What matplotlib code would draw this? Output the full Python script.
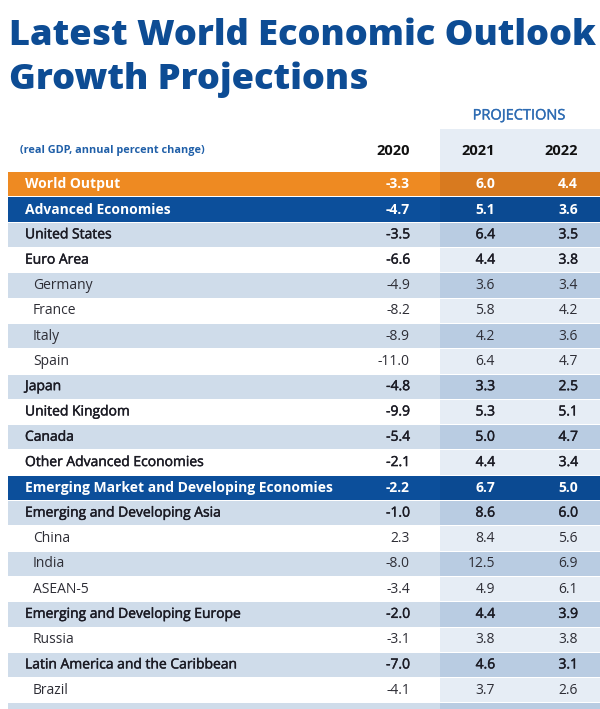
import matplotlib
matplotlib.use("Agg")
import matplotlib.pyplot as plt
from matplotlib.patches import Rectangle
import matplotlib.patheffects as pe

plt.rcParams['font.family'] = ['Open Sans', 'DejaVu Sans']

# table data
regions = ["World Output", "Advanced Economies", "United States", "Euro Area",
           "Germany", "France", "Italy", "Spain", "Japan", "United Kingdom",
           "Canada", "Other Advanced Economies",
           "Emerging Market and Developing Economies",
           "Emerging and Developing Asia", "China", "India", "ASEAN-5",
           "Emerging and Developing Europe", "Russia",
           "Latin America and the Caribbean", "Brazil"]
levels = ["world", "group", "region", "region", "country", "country", "country",
          "country", "region", "region", "region", "region", "group", "region",
          "country", "country", "country", "region", "country", "region", "country"]
g2020 = [-3.3, -4.7, -3.5, -6.6, -4.9, -8.2, -8.9, -11.0, -4.8, -9.9, -5.4, -2.1,
         -2.2, -1.0, 2.3, -8.0, -3.4, -2.0, -3.1, -7.0, -4.1]
g2021 = [6.0, 5.1, 6.4, 4.4, 3.6, 5.8, 4.2, 6.4, 3.3, 5.3, 5.0, 4.4,
         6.7, 8.6, 8.4, 12.5, 4.9, 4.4, 3.8, 4.6, 3.7]
g2022 = [4.4, 3.6, 3.5, 3.8, 3.4, 4.2, 3.6, 4.7, 2.5, 5.1, 4.7, 3.4,
         5.0, 6.0, 5.6, 6.9, 6.1, 3.9, 3.8, 3.1, 2.6]
years = ["2020", "2021", "2022"]

W, H = 600, 709
TOP = 172.1
ROW_H = 25.3
LEFT, RIGHT = 8, 600
PROJ_X = 440
VAL_X = [410, 495, 578]

ORANGE, ORANGE_P = '#ee8a22', '#d87a1f'
NAVY, NAVY_P = '#0c4f9b', '#0b4a92'
LIGHT, LIGHT_P = '#cfdcea', '#b9cce2'
WHITE_P = '#e6edf5'
TITLE_C = '#0d4c94'

fig = plt.figure(figsize=(W / 100, H / 100), dpi=100)
ax = fig.add_axes([0, 0, 1, 1])
ax.set_xlim(0, W)
ax.set_ylim(H, 0)
ax.axis('off')

# title, fitted to width
t1 = ax.text(9, 45, "Latest World Economic Outlook", fontsize=29, fontweight='heavy',
             color=TITLE_C, va='baseline', ha='left')
t2 = ax.text(9, 89, "Growth Projections", fontsize=29, fontweight='heavy',
             color=TITLE_C, va='baseline', ha='left')
fig.canvas.draw()
w1 = t1.get_window_extent().width
fs = 29 * 588 / w1
t1.set_fontsize(fs)
t2.set_fontsize(fs)

# projection column shade behind header
ax.add_patch(Rectangle((PROJ_X, 129), RIGHT - PROJ_X, TOP - 129, color=WHITE_P, lw=0))
ax.text((PROJ_X + RIGHT) / 2 - 1, 116, "PROJECTIONS", fontsize=10.5, color='#2e6cb3',
        ha='center', va='center', fontweight='normal',
        path_effects=[pe.withStroke(linewidth=0.25, foreground='#2e6cb3')])
ax.text(20, 151, "(real GDP, annual percent change)", fontsize=7.8, fontweight='bold',
        color='#1f5fa8', va='center', ha='left')
for x, yr in zip(VAL_X, years):
    ax.text(x, 151, yr, fontsize=10.5, fontweight='bold', color='#111111',
            ha='right', va='center')

stripe = 0
n = len(regions)
for i in range(n + 1):
    y0 = TOP + i * ROW_H
    lev = levels[i] if i < n else "region"
    if lev == "world":
        bg, bgp = ORANGE, ORANGE_P
        stripe = 0
    elif lev == "group":
        bg, bgp = NAVY, NAVY_P
        stripe = 0
    else:
        if stripe % 2 == 0:
            bg, bgp = LIGHT, LIGHT_P
        else:
            bg, bgp = 'white', WHITE_P
        stripe += 1
    ax.add_patch(Rectangle((LEFT, y0), PROJ_X - LEFT, ROW_H - 1, color=bg, lw=0))
    ax.add_patch(Rectangle((PROJ_X, y0), RIGHT - PROJ_X, ROW_H - 1, color=bgp, lw=0))
    if i >= n:
        continue

    yc = y0 + (ROW_H - 1) / 2
    effects = None
    if lev in ("world", "group"):
        color, weight, lx = 'white', 'bold', 25
    elif lev == "region":
        color, weight, lx = '#1b1b24', 'normal', 25
        effects = [pe.withStroke(linewidth=0.3, foreground=color)]
    else:
        color, weight, lx = '#2e2e36', 'normal', 33
    ax.text(lx, yc, regions[i], fontsize=10, fontweight=weight, color=color,
            ha='left', va='center', path_effects=effects)
    for x, v in zip(VAL_X, (g2020[i], g2021[i], g2022[i])):
        ax.text(x, yc, f"{v:.1f}", fontsize=10, fontweight=weight, color=color,
                ha='right', va='center', path_effects=effects)

fig.savefig("out.png", dpi=100)
